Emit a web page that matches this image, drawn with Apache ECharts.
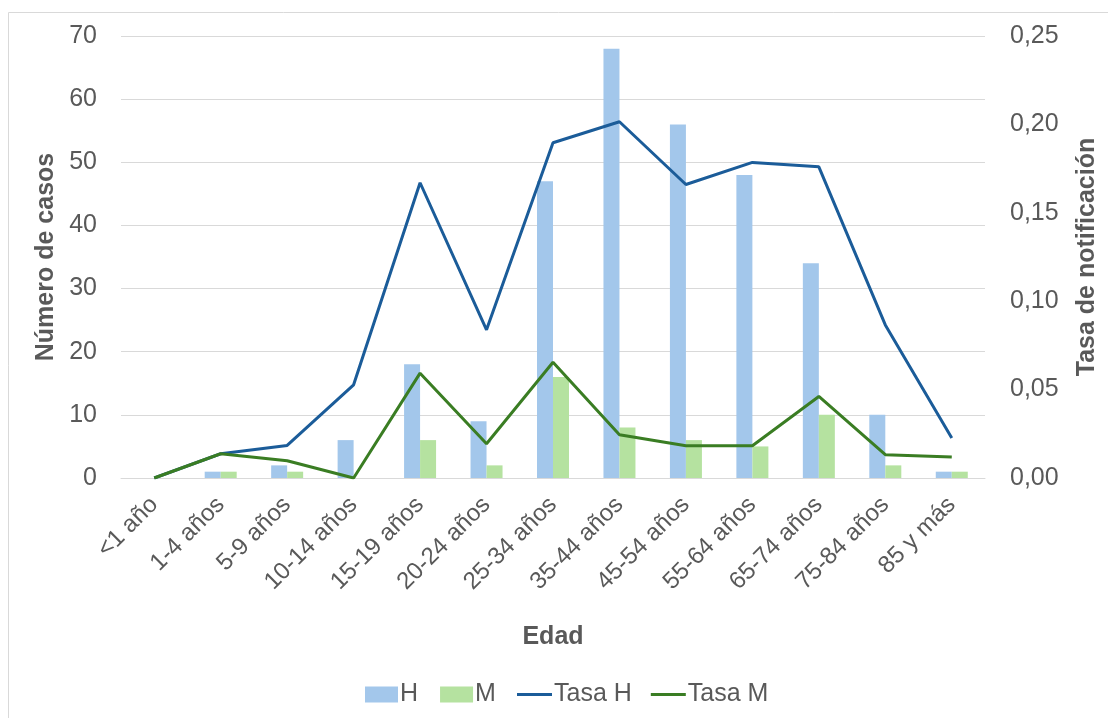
<!DOCTYPE html>
<html><head><meta charset="utf-8">
<script src="https://cdn.jsdelivr.net/npm/echarts@6/dist/echarts.min.js"></script>
<style>html,body{margin:0;padding:0;background:#fff}#c{width:1108px;height:718px}</style>
</head><body><div id="c"></div>
<script>
const categories = ['<1 año','1-4 años','5-9 años','10-14 años','15-19 años','20-24 años','25-34 años','35-44 años','45-54 años','55-64 años','65-74 años','75-84 años','85 y más'];
const casosH = [0,1,2,6,18,9,47,68,56,48,34,10,1];
const casosM = [0,1,1,0,6,2,16,8,6,5,10,2,1];
const tasaH = [0,0.0137,0.0184,0.0527,0.167,0.0838,0.1896,0.2015,0.166,0.1785,0.176,0.0866,0.0226];
const tasaM = [0,0.0137,0.0098,0,0.0593,0.0194,0.0655,0.0245,0.0182,0.0182,0.0461,0.0132,0.0119];
const leftTicks = {min:0,max:70,interval:10};
const rightTicks = {min:0,max:0.25,interval:0.05};

const FONT = '"Liberation Sans", Arial, sans-serif';
const TXT = '#595959';
const chart = echarts.init(document.getElementById('c'));
chart.setOption({
  animation:false,
  textStyle:{fontFamily:FONT},
  graphic:[{type:'rect',shape:{x:8.5,y:12.5,width:1200,height:800},style:{fill:'none',stroke:'#d9d9d9',lineWidth:1},silent:true,z:-10}],
  grid:{left:121,right:121,top:36,bottom:240},
  legend:[
    {left:360,top:677,itemGap:22,itemWidth:33,itemHeight:16,icon:'rect',
     textStyle:{fontSize:25,color:TXT,fontFamily:FONT,padding:[0,0,0,-3]},
     data:['H','M']},
    {left:512,top:677,itemGap:19,itemWidth:35,itemHeight:3,icon:'rect',
     textStyle:{fontSize:25,color:TXT,fontFamily:FONT,padding:[0,0,0,-3]},
     data:['Tasa H','Tasa M']}
  ],
  xAxis:{type:'category',data:categories,
    axisLine:{lineStyle:{color:'#d9d9d9',width:1}},axisTick:{show:false},
    axisLabel:{rotate:45,fontSize:24,color:TXT,margin:23,interval:0},
    name:'Edad',nameLocation:'middle',nameGap:147,
    nameTextStyle:{fontSize:25,fontWeight:'bold',color:TXT}},
  yAxis:[{type:'value',min:leftTicks.min,max:leftTicks.max,interval:leftTicks.interval,
    axisLabel:{fontSize:25,color:TXT,margin:24},
    splitLine:{lineStyle:{color:'#d9d9d9',width:1}},
    axisLine:{show:false},axisTick:{show:false},
    name:'Número de casos',nameLocation:'middle',nameGap:62,
    nameTextStyle:{fontSize:25,fontWeight:'bold',color:TXT}},
   {type:'value',min:rightTicks.min,max:rightTicks.max,interval:rightTicks.interval,
    axisLabel:{fontSize:25,color:TXT,margin:25,formatter:v=>v.toFixed(2).replace('.',',')},
    splitLine:{show:false},axisLine:{show:false},axisTick:{show:false},
    name:'Tasa de notificación',nameLocation:'middle',nameGap:90,
    nameTextStyle:{fontSize:25,fontWeight:'bold',color:TXT}}],
  series:[
    {name:'H',type:'bar',data:casosH,barWidth:16,barGap:'0%',itemStyle:{color:'#A3C7EB'}},
    {name:'M',type:'bar',data:casosM,barWidth:16,barGap:'0%',itemStyle:{color:'#B5E2A0'}},
    {name:'Tasa H',type:'line',yAxisIndex:1,data:tasaH,symbol:'none',lineStyle:{color:'#1B5C99',width:3},itemStyle:{color:'#1B5C99'}},
    {name:'Tasa M',type:'line',yAxisIndex:1,data:tasaM,symbol:'none',lineStyle:{color:'#3A7D23',width:3},itemStyle:{color:'#3A7D23'}}
  ]
});
</script></body></html>
